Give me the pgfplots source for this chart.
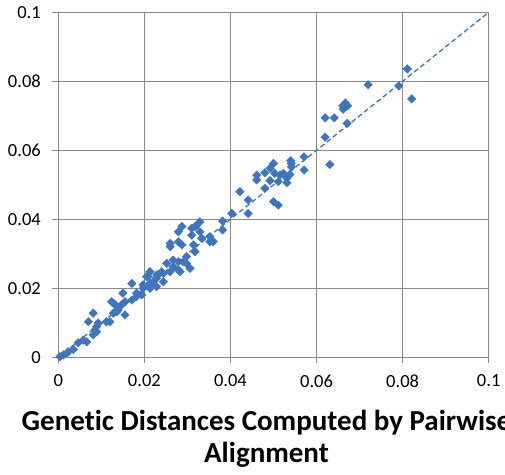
\documentclass[border=0pt]{standalone}
\usepackage{pgfplots}
\pgfplotsset{compat=1.18}
\usepackage{pgfplotstable}
\usepackage{fontspec}
\setmainfont{Carlito}[Ligatures=NoCommon]
\definecolor{pts}{HTML}{3E75BF}
\definecolor{gridc}{HTML}{8A8A8A}

\pgfplotstableread{
x y
0.0811 0.0836
0.0791 0.0787
0.0821 0.0749
0.0720 0.0790
0.0661 0.0729
0.0672 0.0729
0.0662 0.0719
0.0667 0.0737
0.0620 0.0694
0.0641 0.0694
0.0671 0.0678
0.0620 0.0638
0.0571 0.0581
0.0571 0.0543
0.0631 0.0559
0.0540 0.0570
0.0542 0.0552
0.0500 0.0562
0.0492 0.0548
0.0480 0.0535
0.0461 0.0528
0.0461 0.0514
0.0492 0.0512
0.0503 0.0533
0.0515 0.0528
0.0523 0.0533
0.0531 0.0519
0.0531 0.0506
0.0511 0.0509
0.0480 0.0490
0.0500 0.0451
0.0511 0.0441
0.0441 0.0456
0.0441 0.0417
0.0422 0.0480
0.0403 0.0417
0.0382 0.0395
0.0382 0.0369
0.0329 0.0393
0.0322 0.0383
0.0310 0.0374
0.0329 0.0364
0.0352 0.0350
0.0310 0.0354
0.0333 0.0345
0.0287 0.0379
0.0279 0.0364
0.0352 0.0335
0.0360 0.0335
0.0260 0.0330
0.0279 0.0335
0.0287 0.0326
0.0314 0.0326
0.0318 0.0306
0.0298 0.0292
0.0279 0.0277
0.0290 0.0277
0.0267 0.0282
0.0252 0.0272
0.0283 0.0248
0.0267 0.0263
0.0213 0.0248
0.0229 0.0239
0.0244 0.0243
0.0205 0.0234
0.0306 0.0258
0.0279 0.0253
0.0260 0.0248
0.0240 0.0248
0.0171 0.0214
0.0213 0.0214
0.0197 0.0200
0.0150 0.0186
0.0182 0.0186
0.0194 0.0181
0.0124 0.0161
0.0132 0.0152
0.0139 0.0137
0.0128 0.0128
0.0155 0.0161
0.0182 0.0176
0.0244 0.0219
0.0221 0.0219
0.0197 0.0210
0.0213 0.0200
0.0171 0.0166
0.0128 0.0157
0.0147 0.0152
0.0155 0.0123
0.0136 0.0132
0.0112 0.0103
0.0093 0.0099
0.0081 0.0128
0.0070 0.0103
0.0089 0.0089
0.0089 0.0074
0.0081 0.0065
0.0058 0.0050
0.0066 0.0045
0.0046 0.0042
0.0035 0.0023
0.0023 0.0016
0.0012 0.0007
0.0004 0.0002
0.0120 0.0103
0.0020 0.0012
0.0232 0.0239
0.0298 0.0272
0.0228 0.0205
0.0228 0.0229
0.0209 0.0234
0.0318 0.0379
0.0538 0.0530
0.0541 0.0562
0.0085 0.0079
0.0260 0.0321
}\distances

\begin{document}
\begin{tikzpicture}
\path[use as bounding box] (-58.3pt,-116.7pt) rectangle (446.7pt,357.3pt);
\begin{axis}[
  at={(0,0)}, anchor=south west,
  width=430.4pt, height=345pt, scale only axis,
  xmin=0, xmax=0.1, ymin=0, ymax=0.1,
  xtick={0,0.02,0.04,0.06,0.08,0.1},
  ytick={0,0.02,0.04,0.06,0.08,0.1},
  scaled ticks=false,
  /pgf/number format/fixed,
  /pgf/number format/precision=2,
  /pgf/number format/assume math mode=true,
  grid=major,
  major grid style={gridc, line width=1pt},
  axis line style={gridc, line width=1pt},
  tick align=outside, major tick length=6pt,
  tick style={gridc, line width=1pt},
  xtick pos=left, ytick pos=left,
  tick label style={font=\fontsize{18.5}{22}\selectfont, text=black},
  xticklabel style={yshift=-8pt},
  yticklabel style={xshift=-8pt},
  xlabel={Genetic Distances Computed by Pairwise\\Alignment},
  xlabel style={font=\fontsize{29}{32}\selectfont\bfseries, align=center,
    xshift=-7pt, yshift=-16pt},
]
\addplot[only marks, mark=square*, mark size=3pt,
  mark options={rotate=45, fill=pts, draw=pts}] table {\distances};
\addplot[pts, line width=1.3pt, dash pattern=on 5pt off 3pt] coordinates {(0,0) (0.1,0.1)};
\end{axis}
\end{tikzpicture}
\end{document}
